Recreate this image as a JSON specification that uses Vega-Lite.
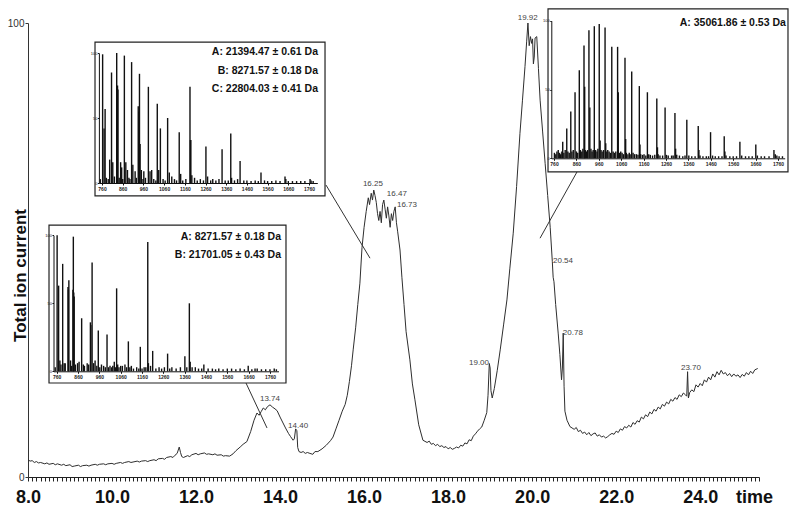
{
  "$schema": "https://vega.github.io/schema/vega-lite/v6.json",
  "width": 731,
  "height": 454,
  "autosize": "none",
  "padding": {"left": 28, "top": 23, "right": 41, "bottom": 37},
  "background": "white",
  "config": {
    "view": {"stroke": null},
    "font": "Liberation Sans",
    "axis": {"labelFont": "Liberation Sans", "titleFont": "Liberation Sans", "grid": false}
  },
  "datasets": {
    "trace": [
      {"t":8.0,"v":3.8},{"t":8.05,"v":3.5},{"t":8.1,"v":3.6},{"t":8.15,"v":3.2},{"t":8.2,"v":3.4},{"t":8.25,"v":3.1},{"t":8.3,"v":3.2},{"t":8.4,"v":2.9},{"t":8.45,"v":3.1},{"t":8.5,"v":2.8},{"t":8.6,"v":3.0},{"t":8.65,"v":2.7},{"t":8.7,"v":2.9},{"t":8.8,"v":2.6},{"t":8.85,"v":2.8},{"t":8.9,"v":2.5},{"t":9.0,"v":2.7},{"t":9.05,"v":2.3},{"t":9.1,"v":2.4},{"t":9.2,"v":2.6},{"t":9.25,"v":2.3},{"t":9.3,"v":2.5},{"t":9.4,"v":2.6},{"t":9.45,"v":2.4},{"t":9.5,"v":2.6},{"t":9.6,"v":2.8},{"t":9.65,"v":2.6},{"t":9.7,"v":2.8},{"t":9.8,"v":2.9},{"t":9.85,"v":2.7},{"t":9.9,"v":2.9},{"t":10.0,"v":3.0},{"t":10.05,"v":2.8},{"t":10.1,"v":3.0},{"t":10.2,"v":3.2},{"t":10.25,"v":3.0},{"t":10.3,"v":3.2},{"t":10.4,"v":3.4},{"t":10.45,"v":3.2},{"t":10.5,"v":3.3},{"t":10.6,"v":3.5},{"t":10.65,"v":3.3},{"t":10.7,"v":3.5},{"t":10.8,"v":3.6},{"t":10.85,"v":3.4},{"t":10.9,"v":3.6},{"t":11.0,"v":3.8},{"t":11.05,"v":3.6},{"t":11.1,"v":4.0},{"t":11.2,"v":4.1},{"t":11.25,"v":3.9},{"t":11.3,"v":4.3},{"t":11.4,"v":4.5},{"t":11.45,"v":4.3},{"t":11.5,"v":4.8},{"t":11.55,"v":5.2},{"t":11.6,"v":6.6},{"t":11.63,"v":5.4},{"t":11.66,"v":4.5},{"t":11.7,"v":4.3},{"t":11.8,"v":4.7},{"t":11.85,"v":4.5},{"t":11.9,"v":4.9},{"t":12.0,"v":5.2},{"t":12.05,"v":4.9},{"t":12.1,"v":5.1},{"t":12.2,"v":5.3},{"t":12.25,"v":5.0},{"t":12.3,"v":5.1},{"t":12.4,"v":4.9},{"t":12.45,"v":5.1},{"t":12.5,"v":4.8},{"t":12.6,"v":4.9},{"t":12.65,"v":4.6},{"t":12.7,"v":4.7},{"t":12.8,"v":4.6},{"t":12.88,"v":5.1},{"t":12.95,"v":5.8},{"t":13.05,"v":6.6},{"t":13.12,"v":7.2},{"t":13.21,"v":7.8},{"t":13.3,"v":10.0},{"t":13.38,"v":12.5},{"t":13.45,"v":14.1},{"t":13.5,"v":13.6},{"t":13.55,"v":14.4},{"t":13.6,"v":15.2},{"t":13.65,"v":14.8},{"t":13.7,"v":15.5},{"t":13.76,"v":15.9},{"t":13.82,"v":15.4},{"t":13.88,"v":15.0},{"t":13.93,"v":14.6},{"t":14.0,"v":13.2},{"t":14.07,"v":11.9},{"t":14.13,"v":10.8},{"t":14.2,"v":9.6},{"t":14.25,"v":8.9},{"t":14.31,"v":8.1},{"t":14.34,"v":8.4},{"t":14.37,"v":10.6},{"t":14.4,"v":10.2},{"t":14.42,"v":6.5},{"t":14.45,"v":5.6},{"t":14.5,"v":5.4},{"t":14.55,"v":5.6},{"t":14.6,"v":5.2},{"t":14.65,"v":5.4},{"t":14.71,"v":5.2},{"t":14.78,"v":5.0},{"t":14.83,"v":5.6},{"t":14.9,"v":5.6},{"t":14.95,"v":5.9},{"t":15.0,"v":6.2},{"t":15.1,"v":7.0},{"t":15.2,"v":8.0},{"t":15.26,"v":8.8},{"t":15.33,"v":10.6},{"t":15.4,"v":12.4},{"t":15.48,"v":14.5},{"t":15.55,"v":16.0},{"t":15.6,"v":18.0},{"t":15.65,"v":21.0},{"t":15.7,"v":24.5},{"t":15.74,"v":28.0},{"t":15.8,"v":33.0},{"t":15.85,"v":38.0},{"t":15.9,"v":42.7},{"t":15.95,"v":50.5},{"t":16.0,"v":55.0},{"t":16.05,"v":58.5},{"t":16.1,"v":61.5},{"t":16.13,"v":60.0},{"t":16.17,"v":62.5},{"t":16.2,"v":61.0},{"t":16.23,"v":63.2},{"t":16.26,"v":62.0},{"t":16.29,"v":60.5},{"t":16.32,"v":58.0},{"t":16.35,"v":56.5},{"t":16.38,"v":58.5},{"t":16.41,"v":56.0},{"t":16.44,"v":60.0},{"t":16.47,"v":61.0},{"t":16.5,"v":59.0},{"t":16.53,"v":57.0},{"t":16.56,"v":59.5},{"t":16.59,"v":57.5},{"t":16.62,"v":55.0},{"t":16.65,"v":58.0},{"t":16.68,"v":56.5},{"t":16.71,"v":58.5},{"t":16.74,"v":59.5},{"t":16.77,"v":56.0},{"t":16.8,"v":54.0},{"t":16.855,"v":50.0},{"t":16.9,"v":44.0},{"t":16.95,"v":38.0},{"t":17.0,"v":32.0},{"t":17.09,"v":25.8},{"t":17.15,"v":20.5},{"t":17.21,"v":17.0},{"t":17.3,"v":11.5},{"t":17.4,"v":8.1},{"t":17.5,"v":7.6},{"t":17.55,"v":7.9},{"t":17.6,"v":7.2},{"t":17.65,"v":7.4},{"t":17.7,"v":6.9},{"t":17.75,"v":7.2},{"t":17.8,"v":6.7},{"t":17.85,"v":6.9},{"t":17.9,"v":6.5},{"t":17.95,"v":6.7},{"t":18.0,"v":6.2},{"t":18.05,"v":6.5},{"t":18.1,"v":6.1},{"t":18.15,"v":6.3},{"t":18.2,"v":6.6},{"t":18.25,"v":6.4},{"t":18.3,"v":7.0},{"t":18.35,"v":6.8},{"t":18.4,"v":7.5},{"t":18.45,"v":7.3},{"t":18.5,"v":8.2},{"t":18.55,"v":8.0},{"t":18.6,"v":9.0},{"t":18.65,"v":9.5},{"t":18.7,"v":10.1},{"t":18.75,"v":10.6},{"t":18.8,"v":11.0},{"t":18.86,"v":12.5},{"t":18.92,"v":14.2},{"t":18.95,"v":18.0},{"t":18.98,"v":25.0},{"t":19.0,"v":24.0},{"t":19.02,"v":19.0},{"t":19.05,"v":17.4},{"t":19.1,"v":19.5},{"t":19.17,"v":23.5},{"t":19.24,"v":28.0},{"t":19.32,"v":33.5},{"t":19.4,"v":39.0},{"t":19.47,"v":46.0},{"t":19.55,"v":53.7},{"t":19.63,"v":64.0},{"t":19.71,"v":75.7},{"t":19.77,"v":83.0},{"t":19.83,"v":90.4},{"t":19.87,"v":96.0},{"t":19.9,"v":100.0},{"t":19.93,"v":95.0},{"t":19.96,"v":97.0},{"t":19.99,"v":95.5},{"t":20.01,"v":96.5},{"t":20.03,"v":91.0},{"t":20.05,"v":92.5},{"t":20.07,"v":96.7},{"t":20.11,"v":97.0},{"t":20.15,"v":90.0},{"t":20.19,"v":83.0},{"t":20.25,"v":76.0},{"t":20.31,"v":69.0},{"t":20.37,"v":62.0},{"t":20.43,"v":55.0},{"t":20.48,"v":47.5},{"t":20.5,"v":44.0},{"t":20.52,"v":43.0},{"t":20.56,"v":38.0},{"t":20.62,"v":31.7},{"t":20.66,"v":27.0},{"t":20.7,"v":21.4},{"t":20.72,"v":24.0},{"t":20.74,"v":31.7},{"t":20.76,"v":20.0},{"t":20.78,"v":14.5},{"t":20.83,"v":12.5},{"t":20.9,"v":11.1},{"t":20.95,"v":10.8},{"t":21.0,"v":10.5},{"t":21.05,"v":10.9},{"t":21.1,"v":10.0},{"t":21.15,"v":10.3},{"t":21.2,"v":9.6},{"t":21.25,"v":9.9},{"t":21.3,"v":9.3},{"t":21.35,"v":9.8},{"t":21.4,"v":9.1},{"t":21.45,"v":9.5},{"t":21.5,"v":9.7},{"t":21.55,"v":9.0},{"t":21.6,"v":9.3},{"t":21.65,"v":8.8},{"t":21.7,"v":9.0},{"t":21.75,"v":8.6},{"t":21.8,"v":8.9},{"t":21.85,"v":9.3},{"t":21.9,"v":9.6},{"t":21.95,"v":9.4},{"t":22.0,"v":10.1},{"t":22.05,"v":9.8},{"t":22.1,"v":10.6},{"t":22.15,"v":10.3},{"t":22.2,"v":11.1},{"t":22.25,"v":10.8},{"t":22.3,"v":11.4},{"t":22.35,"v":11.0},{"t":22.4,"v":12.0},{"t":22.45,"v":11.6},{"t":22.5,"v":12.4},{"t":22.55,"v":12.1},{"t":22.6,"v":13.2},{"t":22.65,"v":12.8},{"t":22.7,"v":13.7},{"t":22.75,"v":13.3},{"t":22.8,"v":14.3},{"t":22.85,"v":13.9},{"t":22.9,"v":14.9},{"t":22.95,"v":14.5},{"t":23.0,"v":15.4},{"t":23.05,"v":15.0},{"t":23.1,"v":16.0},{"t":23.15,"v":15.6},{"t":23.2,"v":16.5},{"t":23.25,"v":16.1},{"t":23.3,"v":17.1},{"t":23.35,"v":16.7},{"t":23.4,"v":17.5},{"t":23.45,"v":17.1},{"t":23.5,"v":18.1},{"t":23.55,"v":17.7},{"t":23.6,"v":18.5},{"t":23.65,"v":18.1},{"t":23.68,"v":17.8},{"t":23.7,"v":23.2},{"t":23.72,"v":17.4},{"t":23.75,"v":18.6},{"t":23.8,"v":19.2},{"t":23.85,"v":18.8},{"t":23.9,"v":20.3},{"t":23.95,"v":19.8},{"t":24.0,"v":20.6},{"t":24.05,"v":20.1},{"t":24.1,"v":21.4},{"t":24.15,"v":20.9},{"t":24.2,"v":22.0},{"t":24.25,"v":21.4},{"t":24.3,"v":22.7},{"t":24.35,"v":22.0},{"t":24.4,"v":23.2},{"t":24.45,"v":22.5},{"t":24.5,"v":23.5},{"t":24.55,"v":22.7},{"t":24.6,"v":23.0},{"t":24.65,"v":22.3},{"t":24.7,"v":22.8},{"t":24.75,"v":22.1},{"t":24.8,"v":22.7},{"t":24.85,"v":22.2},{"t":24.9,"v":22.5},{"t":24.95,"v":21.9},{"t":25.0,"v":22.6},{"t":25.05,"v":22.2},{"t":25.1,"v":23.0},{"t":25.15,"v":22.5},{"t":25.2,"v":23.3},{"t":25.25,"v":22.8},{"t":25.3,"v":23.6},{"t":25.37,"v":23.9}
    ],
    "peaklabels": [
      {"t":13.76,"v":17.2,"label":"13.74"},
      {"t":14.43,"v":11.2,"label":"14.40"},
      {"t":16.21,"v":64.5,"label":"16.25"},
      {"t":16.78,"v":62.3,"label":"16.47"},
      {"t":17.02,"v":59.9,"label":"16.73"},
      {"t":18.735,"v":25.1,"label":"19.00"},
      {"t":19.895,"v":101.1,"label":"19.92"},
      {"t":20.735,"v":47.6,"label":"20.54"},
      {"t":20.97,"v":31.7,"label":"20.78"},
      {"t":23.78,"v":24.0,"label":"23.70"}
    ],
    "connectors": [
      {"t":15.094,"v":64.3,"t2":16.141,"v2":48.2},
      {"t":13.189,"v":20.7,"t2":13.689,"v2":10.8},
      {"t":21.068,"v":67.2,"t2":20.188,"v2":52.6}
    ],
    "boxes": [
      {"t":9.595,"v":95.8,"t2":15.07,"v2":61.9},
      {"t":8.5,"v":55.5,"t2":14.141,"v2":20.7},
      {"t":20.378,"v":103.1,"t2":26.09,"v2":67.2}
    ],
    "boxtext": [
      {"t":14.903,"v":93.6,"label":"A: 21394.47 ± 0.61 Da"},
      {"t":14.903,"v":89.4,"label":"B: 8271.57 ± 0.18 Da"},
      {"t":14.903,"v":85.5,"label":"C: 22804.03 ± 0.41 Da"},
      {"t":14.022,"v":52.9,"label":"A: 8271.57 ± 0.18 Da"},
      {"t":14.022,"v":48.9,"label":"B: 21701.05 ± 0.43 Da"},
      {"t":26.04,"v":100.0,"label":"A: 35061.86 ± 0.53 Da"}
    ],
    "inset1": [
      {"mz":763,"h":99},{"mz":770,"h":42},{"mz":775,"h":57},{"mz":797,"h":18},{"mz":806,"h":85},{"mz":812,"h":16},{"mz":831,"h":100},{"mz":833,"h":74},{"mz":835,"h":75},{"mz":837,"h":72},{"mz":850,"h":16},{"mz":855,"h":12},{"mz":868,"h":98},{"mz":875,"h":16},{"mz":883,"h":10},{"mz":903,"h":93},{"mz":909,"h":14},{"mz":920,"h":9},{"mz":935,"h":59},{"mz":938,"h":55},{"mz":941,"h":84},{"mz":944,"h":30},{"mz":950,"h":10},{"mz":962,"h":9},{"mz":984,"h":74},{"mz":992,"h":9},{"mz":1000,"h":10},{"mz":1027,"h":61},{"mz":1034,"h":10},{"mz":1042,"h":42},{"mz":1077,"h":50},{"mz":1085,"h":8},{"mz":1097,"h":5},{"mz":1133,"h":39},{"mz":1140,"h":7},{"mz":1185,"h":74},{"mz":1187,"h":33},{"mz":1189,"h":33},{"mz":1194,"h":6},{"mz":1207,"h":4},{"mz":1262,"h":28},{"mz":1270,"h":5},{"mz":1295,"h":3},{"mz":1340,"h":26},{"mz":1382,"h":38},{"mz":1386,"h":4},{"mz":1427,"h":17},{"mz":1528,"h":8},{"mz":1600,"h":2},{"mz":1644,"h":5},{"mz":1648,"h":3},{"mz":1765,"h":3},{"mz":1770,"h":2},
      {"mz":752,"h":3},{"mz":781,"h":4},{"mz":790,"h":3},{"mz":820,"h":5},{"mz":843,"h":4},{"mz":860,"h":3},{"mz":890,"h":4},{"mz":895,"h":3},{"mz":926,"h":4},{"mz":958,"h":3},{"mz":970,"h":4},{"mz":1010,"h":3},{"mz":1020,"h":2},{"mz":1055,"h":3},{"mz":1065,"h":2},{"mz":1110,"h":3},{"mz":1120,"h":2},{"mz":1150,"h":2},{"mz":1165,"h":3},{"mz":1220,"h":2},{"mz":1235,"h":3},{"mz":1250,"h":2},{"mz":1285,"h":2},{"mz":1310,"h":2},{"mz":1325,"h":3},{"mz":1355,"h":2},{"mz":1370,"h":2},{"mz":1400,"h":2},{"mz":1415,"h":3},{"mz":1445,"h":2},{"mz":1460,"h":2},{"mz":1480,"h":1.5},{"mz":1500,"h":2},{"mz":1515,"h":1.5},{"mz":1545,"h":2},{"mz":1560,"h":1.5},{"mz":1580,"h":1.5},{"mz":1620,"h":1.5},{"mz":1660,"h":1.5},{"mz":1680,"h":1.5},{"mz":1700,"h":1.5},{"mz":1720,"h":1.5},{"mz":1740,"h":1.5},{"mz":1780,"h":1.5}
    ],
    "inset2": [
      {"mz":762,"h":100},{"mz":769,"h":63},{"mz":775,"h":8},{"mz":788,"h":79},{"mz":800,"h":6},{"mz":813,"h":62},{"mz":815,"h":60},{"mz":817,"h":67},{"mz":836,"h":60},{"mz":838,"h":99},{"mz":840,"h":58},{"mz":842,"h":55},{"mz":858,"h":6},{"mz":877,"h":39},{"mz":885,"h":5},{"mz":903,"h":6},{"mz":918,"h":36},{"mz":920,"h":34},{"mz":926,"h":80},{"mz":940,"h":8},{"mz":955,"h":30},{"mz":970,"h":5},{"mz":996,"h":27},{"mz":1010,"h":4},{"mz":1030,"h":7},{"mz":1041,"h":61},{"mz":1046,"h":5},{"mz":1060,"h":4},{"mz":1080,"h":5},{"mz":1096,"h":22},{"mz":1110,"h":4},{"mz":1152,"h":18},{"mz":1170,"h":3},{"mz":1187,"h":95},{"mz":1190,"h":6},{"mz":1210,"h":15},{"mz":1240,"h":3},{"mz":1280,"h":13},{"mz":1300,"h":3},{"mz":1361,"h":11},{"mz":1382,"h":50},{"mz":1386,"h":7},{"mz":1410,"h":3},{"mz":1450,"h":5},{"mz":1520,"h":2},{"mz":1580,"h":2},{"mz":1658,"h":4},{"mz":1700,"h":2},
      {"mz":753,"h":3},{"mz":780,"h":5},{"mz":795,"h":6},{"mz":825,"h":8},{"mz":830,"h":4},{"mz":848,"h":5},{"mz":865,"h":7},{"mz":890,"h":4},{"mz":910,"h":5},{"mz":933,"h":6},{"mz":948,"h":4},{"mz":962,"h":3},{"mz":980,"h":4},{"mz":988,"h":3},{"mz":1003,"h":3},{"mz":1018,"h":3},{"mz":1023,"h":4},{"mz":1036,"h":3},{"mz":1052,"h":3},{"mz":1068,"h":4},{"mz":1088,"h":3},{"mz":1103,"h":3},{"mz":1120,"h":2},{"mz":1135,"h":3},{"mz":1145,"h":2},{"mz":1160,"h":2},{"mz":1178,"h":3},{"mz":1200,"h":4},{"mz":1225,"h":2},{"mz":1252,"h":2},{"mz":1265,"h":3},{"mz":1290,"h":2},{"mz":1320,"h":2},{"mz":1340,"h":3},{"mz":1370,"h":3},{"mz":1395,"h":3},{"mz":1425,"h":2},{"mz":1440,"h":2},{"mz":1470,"h":2},{"mz":1490,"h":2},{"mz":1505,"h":1.5},{"mz":1540,"h":1.5},{"mz":1560,"h":2},{"mz":1600,"h":1.5},{"mz":1620,"h":2},{"mz":1640,"h":1.5},{"mz":1675,"h":1.5},{"mz":1690,"h":2},{"mz":1720,"h":1.5},{"mz":1740,"h":1.5},{"mz":1760,"h":1.5},{"mz":1780,"h":2},{"mz":1790,"h":1.5}
    ],
    "inset3": [
      {"mz":779,"h":6},{"mz":799,"h":12},{"mz":817,"h":21.7},{"mz":835,"h":34},{"mz":854,"h":48},{"mz":873,"h":64},{"mz":894,"h":82},{"mz":897,"h":52},{"mz":916,"h":93},{"mz":920,"h":37},{"mz":940,"h":96},{"mz":962,"h":97.6},{"mz":966,"h":13},{"mz":988,"h":95},{"mz":991,"h":11},{"mz":1018,"h":81},{"mz":1044,"h":81},{"mz":1047,"h":48},{"mz":1077,"h":73},{"mz":1080,"h":14},{"mz":1107,"h":63},{"mz":1141,"h":52.5},{"mz":1144,"h":10},{"mz":1177,"h":48},{"mz":1219,"h":43.5},{"mz":1222,"h":8},{"mz":1256,"h":37},{"mz":1300,"h":33},{"mz":1303,"h":7},{"mz":1353,"h":28},{"mz":1404,"h":23.5},{"mz":1407,"h":6},{"mz":1459,"h":19},{"mz":1520,"h":16},{"mz":1523,"h":5},{"mz":1590,"h":12},{"mz":1661,"h":10},{"mz":1742,"h":6},
      {"mz":762,"h":4},{"mz":768,"h":3},{"mz":773,"h":5},{"mz":785,"h":4},{"mz":790,"h":3},{"mz":795,"h":5},{"mz":804,"h":4},{"mz":810,"h":6},{"mz":822,"h":5},{"mz":828,"h":4},{"mz":840,"h":5},{"mz":846,"h":6},{"mz":860,"h":5},{"mz":866,"h":4},{"mz":878,"h":6},{"mz":884,"h":5},{"mz":889,"h":7},{"mz":900,"h":6},{"mz":906,"h":5},{"mz":910,"h":6},{"mz":925,"h":7},{"mz":930,"h":5},{"mz":935,"h":6},{"mz":946,"h":6},{"mz":952,"h":5},{"mz":956,"h":7},{"mz":970,"h":6},{"mz":975,"h":5},{"mz":981,"h":6},{"mz":993,"h":5},{"mz":1000,"h":6},{"mz":1006,"h":5},{"mz":1012,"h":4},{"mz":1024,"h":5},{"mz":1030,"h":4},{"mz":1036,"h":5},{"mz":1052,"h":4},{"mz":1058,"h":5},{"mz":1064,"h":4},{"mz":1070,"h":3},{"mz":1083,"h":4},{"mz":1090,"h":3},{"mz":1096,"h":4},{"mz":1100,"h":3},{"mz":1113,"h":4},{"mz":1120,"h":3},{"mz":1128,"h":3},{"mz":1135,"h":2.5},{"mz":1147,"h":3},{"mz":1155,"h":2.5},{"mz":1162,"h":3},{"mz":1170,"h":2},{"mz":1183,"h":3},{"mz":1190,"h":2.5},{"mz":1200,"h":2},{"mz":1210,"h":2.5},{"mz":1225,"h":3},{"mz":1233,"h":2},{"mz":1245,"h":2},{"mz":1262,"h":2.5},{"mz":1270,"h":2},{"mz":1285,"h":2},{"mz":1292,"h":2},{"mz":1308,"h":2.5},{"mz":1320,"h":2},{"mz":1335,"h":1.5},{"mz":1345,"h":2},{"mz":1362,"h":2},{"mz":1375,"h":1.5},{"mz":1390,"h":1.5},{"mz":1412,"h":2},{"mz":1425,"h":1.5},{"mz":1440,"h":1.5},{"mz":1450,"h":1.5},{"mz":1468,"h":2},{"mz":1480,"h":1.5},{"mz":1495,"h":1.5},{"mz":1510,"h":1.5},{"mz":1528,"h":2},{"mz":1545,"h":1.5},{"mz":1560,"h":1.5},{"mz":1575,"h":1.5},{"mz":1598,"h":2},{"mz":1615,"h":1.5},{"mz":1630,"h":1.5},{"mz":1645,"h":1.5},{"mz":1668,"h":2},{"mz":1685,"h":1.5},{"mz":1700,"h":1.5},{"mz":1720,"h":1.5},{"mz":1748,"h":3},{"mz":1755,"h":2},{"mz":1765,"h":1.5},{"mz":1780,"h":1.5}
    ]
  },
  "layer": [
    {
      "layer": [
        {
          "data": {"name": "trace"},
          "mark": {"type": "line", "color": "#2e2e2e", "strokeWidth": 1},
          "encoding": {
            "x": {"field": "t", "type": "quantitative",
              "scale": {"domain": [8, 25.4], "nice": false, "zero": false},
              "axis": {"orient": "bottom", "tickCount": 400,
                "values": [8,8.1,8.2,8.3,8.4,8.5,8.6,8.7,8.8,8.9,9,9.1,9.2,9.3,9.4,9.5,9.6,9.7,9.8,9.9,10,10.1,10.2,10.3,10.4,10.5,10.6,10.7,10.8,10.9,11,11.1,11.2,11.3,11.4,11.5,11.6,11.7,11.8,11.9,12,12.1,12.2,12.3,12.4,12.5,12.6,12.7,12.8,12.9,13,13.1,13.2,13.3,13.4,13.5,13.6,13.7,13.8,13.9,14,14.1,14.2,14.3,14.4,14.5,14.6,14.7,14.8,14.9,15,15.1,15.2,15.3,15.4,15.5,15.6,15.7,15.8,15.9,16,16.1,16.2,16.3,16.4,16.5,16.6,16.7,16.8,16.9,17,17.1,17.2,17.3,17.4,17.5,17.6,17.7,17.8,17.9,18,18.1,18.2,18.3,18.4,18.5,18.6,18.7,18.8,18.9,19,19.1,19.2,19.3,19.4,19.5,19.6,19.7,19.8,19.9,20,20.1,20.2,20.3,20.4,20.5,20.6,20.7,20.8,20.9,21,21.1,21.2,21.3,21.4,21.5,21.6,21.7,21.8,21.9,22,22.1,22.2,22.3,22.4,22.5,22.6,22.7,22.8,22.9,23,23.1,23.2,23.3,23.4,23.5,23.6,23.7,23.8,23.9,24,24.1,24.2,24.3,24.4,24.5,24.6,24.7,24.8,24.9,25,25.1,25.2,25.3,25.4],
                "labelExpr": "abs(datum.value / 2 - round(datum.value / 2)) < 0.01 && datum.value < 25 ? format(datum.value, '.1f') : ''",
                "labelFontSize": 18, "labelFontWeight": "bold", "labelColor": "#111", "labelPadding": 7,
                "tickSize": 4, "tickColor": "#222", "tickWidth": 1, "domainColor": "#222", "labelFlush": false, "labelOverlap": false,
                "title": "time", "titleFontSize": 18, "titleFontWeight": "bold", "titleColor": "#111",
                "titleX": 726, "titleY": 20, "titleBaseline": "middle", "titleAlign": "center"}},
            "y": {"field": "v", "type": "quantitative",
              "scale": {"domain": [0, 100], "nice": false, "zero": false},
              "axis": {"orient": "left", "values": [0, 100], "labelFontSize": 10, "labelColor": "#333",
                "tickSize": 3, "labelPadding": 1, "domainColor": "#333", "tickColor": "#333",
                "title": "Total ion current", "titleFontSize": 17, "titleFontWeight": "bold", "titleColor": "#111",
                "titleX": -8, "titleY": 252, "titleAngle": -90, "titleBaseline": "middle", "titleAlign": "center"}}
          }
        },
        {
          "data": {"name": "connectors"},
          "mark": {"type": "rule", "color": "#333", "strokeWidth": 1},
          "encoding": {
            "x": {"field": "t", "type": "quantitative"},
            "x2": {"field": "t2"},
            "y": {"field": "v", "type": "quantitative"},
            "y2": {"field": "v2"}
          }
        },
        {
          "data": {"name": "boxes"},
          "mark": {"type": "rect", "fill": "white", "stroke": "#222", "strokeWidth": 1.2},
          "encoding": {
            "x": {"field": "t", "type": "quantitative"},
            "x2": {"field": "t2"},
            "y": {"field": "v", "type": "quantitative"},
            "y2": {"field": "v2"}
          }
        },
        {
          "data": {"name": "boxtext"},
          "mark": {"type": "text", "align": "right", "baseline": "middle", "fontSize": 10.5, "fontWeight": "bold", "color": "#111"},
          "encoding": {
            "x": {"field": "t", "type": "quantitative"},
            "y": {"field": "v", "type": "quantitative"},
            "text": {"field": "label"}
          }
        },
        {
          "data": {"name": "peaklabels"},
          "mark": {"type": "text", "align": "center", "baseline": "middle", "fontSize": 8, "color": "#444"},
          "encoding": {
            "x": {"field": "t", "type": "quantitative"},
            "y": {"field": "v", "type": "quantitative"},
            "text": {"field": "label"}
          }
        }
      ]
    },
    {
      "data": {"name": "inset1"},
      "mark": {"type": "rule", "color": "#111", "strokeWidth": 1.4},
      "encoding": {
        "x": {"field": "mz", "type": "quantitative",
          "scale": {"domain": [745, 1800], "range": [70.9, 289.3], "nice": false, "zero": false},
          "axis": {"orient": "bottom", "offset": -294, "zindex": 1, "values": [760, 860, 960, 1060, 1160, 1260, 1360, 1460, 1560, 1660, 1760], "format": "d",
            "labelFontSize": 5, "labelFontWeight": "bold", "labelColor": "#222", "tickSize": 2, "labelPadding": 1,
            "domainColor": "#111", "tickColor": "#111", "title": null, "labelOverlap": false, "labelFlush": false}},
        "y": {"field": "h", "type": "quantitative",
          "scale": {"domain": [0, 100], "range": [160, 30], "nice": false},
          "axis": {"orient": "left", "offset": -70.9, "zindex": 1, "values": [0, 50, 100], "labelFontSize": 4, "labelColor": "#222",
            "tickSize": 1.5, "labelPadding": 0.5, "domainColor": "#111", "tickColor": "#111", "title": null}},
        "y2": {"datum": 0}
      }
    },
    {
      "data": {"name": "inset2"},
      "mark": {"type": "rule", "color": "#111", "strokeWidth": 1.4},
      "encoding": {
        "x": {"field": "mz", "type": "quantitative",
          "scale": {"domain": [745, 1800], "range": [25.5, 250.5], "nice": false, "zero": false},
          "axis": {"orient": "bottom", "offset": -105.7, "zindex": 1, "values": [760, 860, 960, 1060, 1160, 1260, 1360, 1460, 1560, 1660, 1760], "format": "d",
            "labelFontSize": 5, "labelFontWeight": "bold", "labelColor": "#222", "tickSize": 2, "labelPadding": 1,
            "domainColor": "#111", "tickColor": "#111", "title": null, "labelOverlap": false, "labelFlush": false}},
        "y": {"field": "h", "type": "quantitative",
          "scale": {"domain": [0, 100], "range": [348.3, 212.3], "nice": false},
          "axis": {"orient": "left", "offset": -25.5, "zindex": 1, "values": [0, 50, 100], "labelFontSize": 4, "labelColor": "#222",
            "tickSize": 1.5, "labelPadding": 0.5, "domainColor": "#111", "tickColor": "#111", "title": null}},
        "y2": {"datum": 0}
      }
    },
    {
      "data": {"name": "inset3"},
      "mark": {"type": "rule", "color": "#111", "strokeWidth": 1.4},
      "encoding": {
        "x": {"field": "mz", "type": "quantitative",
          "scale": {"domain": [748, 1790], "range": [523.3, 756.7], "nice": false, "zero": false},
          "axis": {"orient": "bottom", "offset": -318.7, "zindex": 1, "values": [760, 860, 960, 1060, 1160, 1260, 1360, 1460, 1560, 1660, 1760], "format": "d",
            "labelFontSize": 5, "labelFontWeight": "bold", "labelColor": "#222", "tickSize": 2, "labelPadding": 1,
            "domainColor": "#111", "tickColor": "#111", "title": null, "labelOverlap": false, "labelFlush": false}},
        "y": {"field": "h", "type": "quantitative",
          "scale": {"domain": [0, 100], "range": [135.3, -2.3], "nice": false},
          "axis": {"orient": "left", "offset": -523.3, "zindex": 1, "values": [0, 50, 100], "labelFontSize": 4, "labelColor": "#222",
            "tickSize": 1.5, "labelPadding": 0.5, "domainColor": "#111", "tickColor": "#111", "title": null}},
        "y2": {"datum": 0}
      }
    }
  ],
  "resolve": {"scale": {"x": "independent", "y": "independent"}}
}
